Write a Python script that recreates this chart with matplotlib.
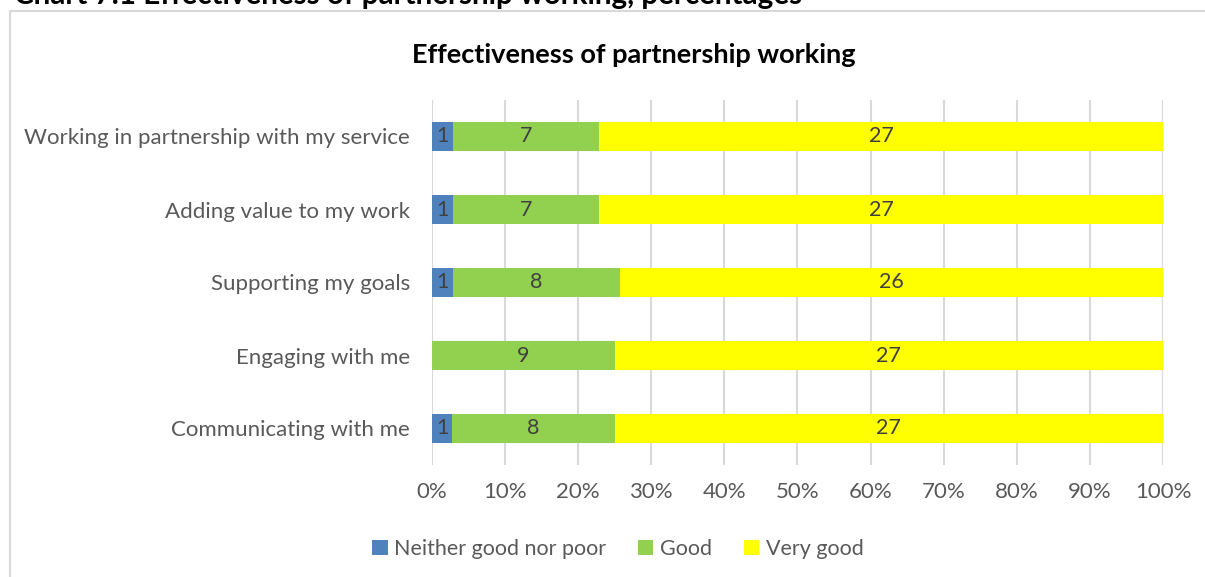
import numpy as np
import matplotlib.pyplot as plt
from matplotlib.patches import Rectangle

plt.rcParams['font.family'] = ['Lato', 'DejaVu Sans']

categories = ["Communicating with me", "Engaging with me", "Supporting my goals",
              "Adding value to my work", "Working in partnership with my service"]
neither = [1, 0, 1, 1, 1]
good = [8, 9, 8, 7, 7]
very_good = [27, 27, 26, 27, 27]

series = [("Neither good nor poor", neither, "#4f81bd"),
          ("Good", good, "#92d050"),
          ("Very good", very_good, "#ffff00")]

totals = np.array(neither) + np.array(good) + np.array(very_good)

fig = plt.figure(figsize=(12.05, 5.77), dpi=100)
fig.patches.append(Rectangle((10/1205, -0.1), 1.2, 1 - 11/577 + 0.1,
                             transform=fig.transFigure, fill=False,
                             edgecolor="#d9d9d9", linewidth=1.5))
# page heading, partly cut off at the top as in the source
fig.text(14/1205, 1 - 4/577, "Chart 7.1 Effectiveness of partnership working, percentages",
         fontsize=21.3, fontweight="bold", color="black", va="baseline", ha="left")

ax = fig.add_axes([432/1205, 1 - 465/577, (1163-432)/1205, 365/577])
y = np.arange(len(categories))
left = np.zeros(len(categories))
for name, vals, col in series:
    pct = np.array(vals) / totals * 100
    ax.barh(y, pct, left=left, height=0.41, color=col, label=name, zorder=2)
    for yi, l, p, v in zip(y, left, pct, vals):
        if v > 0:
            ax.text(l + p/2, yi, str(v), ha="center", va="center",
                    fontsize=15.5, color="#404040", zorder=3)
    left += pct

ax.set_xlim(0, 100)
ax.set_ylim(-0.5, 4.5)
ax.set_xticks(np.arange(0, 101, 10))
ax.set_xticklabels([f"{t}%" for t in range(0, 101, 10)])
ax.set_yticks(y)
ax.set_yticklabels(categories)
ax.tick_params(axis="both", length=0, labelsize=16, colors="#595959")
ax.tick_params(axis="x", pad=12)
ax.tick_params(axis="y", pad=16)
ax.grid(axis="x", color="#d9d9d9", linewidth=1.5, zorder=0)
for s in ax.spines.values():
    s.set_visible(False)

fig.text(634/1205, 1 - 55/577, "Effectiveness of partnership working", fontsize=19.5,
         fontweight="bold", color="black", ha="center", va="center")

fig.legend(loc="center", bbox_to_anchor=(618/1205, 1 - 549/577), ncol=3, frameon=False,
           fontsize=15.5, handlelength=0.7, handleheight=0.7, handletextpad=0.3,
           columnspacing=1.5, labelcolor="#595959")

fig.savefig("out.png", dpi=100)
